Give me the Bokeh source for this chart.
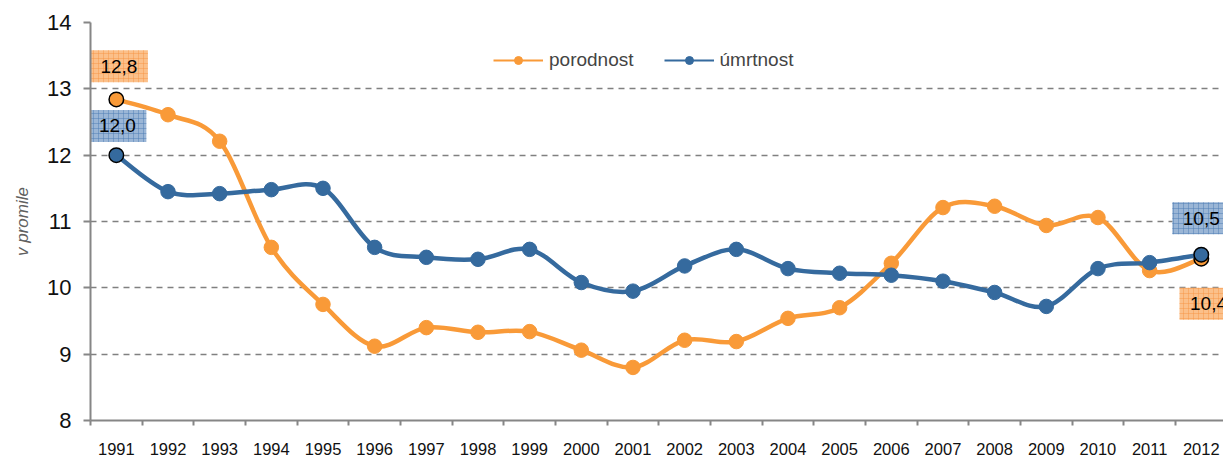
from bokeh.plotting import figure
from bokeh.models import FixedTicker, Legend, LegendItem, ColumnDataSource, Range1d
from bokeh.core.properties import value
from bokeh.embed import file_html
from bokeh.resources import INLINE

years = list(range(1991, 2013))
porodnost = [12.84, 12.61, 12.21, 10.61, 9.75, 9.12, 9.40, 9.33, 9.34, 9.06, 8.80,
             9.21, 9.19, 9.54, 9.70, 10.37, 11.21, 11.23, 10.94, 11.06, 10.26, 10.44]
umrtnost = [12.00, 11.45, 11.42, 11.48, 11.50, 10.61, 10.46, 10.43, 10.58, 10.08, 9.95,
            10.33, 10.58, 10.29, 10.22, 10.19, 10.10, 9.93, 9.72, 10.29, 10.38, 10.50]
series_names = ["porodnost", "úmrtnost"]
y_ticks = [8, 9, 10, 11, 12, 13, 14]

ORANGE = "#F99A38"
BLUE = "#356A9E"
FONT = "Liberation Sans"

p = figure(width=1223, height=461, output_backend="svg", toolbar_location=None,
           x_range=(1990.5, 2012.43), y_range=(8, 14),
           min_border_left=90, min_border_right=0, min_border_top=22, min_border_bottom=41)
p.outline_line_color = None
p.background_fill_color = "white"
p.border_fill_color = "white"
p.extra_y_ranges = {"hidden": Range1d(100, 101)}

# grid
p.xgrid.grid_line_color = None
p.ygrid.ticker = FixedTicker(ticks=y_ticks)
p.ygrid.grid_line_color = "#808080"
p.ygrid.grid_line_width = 1.6
p.ygrid.grid_line_dash = "6 5"

# y axis
p.yaxis.ticker = FixedTicker(ticks=y_ticks)
p.yaxis.axis_line_color = "#868686"
p.yaxis.axis_line_width = 2
p.yaxis.major_tick_line_color = "#868686"
p.yaxis.major_tick_line_width = 2
p.yaxis.major_tick_out = 7
p.yaxis.major_tick_in = 0
p.yaxis.minor_tick_line_color = None
p.yaxis.major_label_text_font = FONT
p.yaxis.major_label_text_font_size = "22px"
p.yaxis.major_label_text_color = "#111111"
p.yaxis.major_label_standoff = 12
p.yaxis.axis_label = "v promile"
p.yaxis.axis_label_text_font = FONT
p.yaxis.axis_label_text_font_style = "italic"
p.yaxis.axis_label_text_font_size = "17px"
p.yaxis.axis_label_text_color = "#606060"
p.yaxis.axis_label_standoff = 12

# x axis
p.xaxis.ticker = FixedTicker(ticks=years, minor_ticks=[y - 0.5 for y in years] + [years[-1] + 0.5])
p.xaxis.axis_line_color = "#868686"
p.xaxis.axis_line_width = 2
p.xaxis.major_tick_line_color = None
p.xaxis.major_tick_out = 0
p.xaxis.major_tick_in = 0
p.xaxis.minor_tick_line_color = "#868686"
p.xaxis.minor_tick_line_width = 2
p.xaxis.minor_tick_out = 5
p.xaxis.minor_tick_in = 0
p.xaxis.major_label_text_font = FONT
p.xaxis.major_label_text_font_size = "16.5px"
p.xaxis.major_label_text_color = "#111111"
p.xaxis.major_label_standoff = 17


def bezier_source(xs, ys):
    x0, y0, x1, y1, cx0, cy0, cx1, cy1 = [], [], [], [], [], [], [], []
    n = len(xs)
    for i in range(n - 1):
        xp, yp = (xs[i - 1], ys[i - 1]) if i > 0 else (xs[i], ys[i])
        xn, yn = (xs[i + 2], ys[i + 2]) if i + 2 < n else (xs[i + 1], ys[i + 1])
        x0.append(xs[i]); y0.append(ys[i])
        x1.append(xs[i + 1]); y1.append(ys[i + 1])
        cx0.append(xs[i] + (xs[i + 1] - xp) / 6.0)
        cy0.append(ys[i] + (ys[i + 1] - yp) / 6.0)
        cx1.append(xs[i + 1] - (xn - xs[i]) / 6.0)
        cy1.append(ys[i + 1] - (yn - ys[i]) / 6.0)
    return ColumnDataSource(dict(x0=x0, y0=y0, x1=x1, y1=y1, cx0=cx0, cy0=cy0, cx1=cx1, cy1=cy1))


legend_items = []
for name, vals, col in [(series_names[0], porodnost, ORANGE), (series_names[1], umrtnost, BLUE)]:
    p.bezier(x0="x0", y0="y0", x1="x1", y1="y1", cx0="cx0", cy0="cy0", cx1="cx1", cy1="cy1",
             source=bezier_source(years, vals), line_color=col, line_width=4.5)
    p.scatter(years[1:-1], vals[1:-1], size=14.5, fill_color=col, line_color=col)
    p.scatter([years[0], years[-1]], [vals[0], vals[-1]], size=14.5,
              fill_color=col, line_color="black", line_width=1.5)
    # legend helpers (drawn on a hidden range, only their legend glyphs are visible)
    lg_line = p.line(x=years, y=vals, line_color=col, line_width=2, y_range_name="hidden")
    lg_pt = p.scatter(x=years, y=vals, size=13, fill_color=col, line_color=col, y_range_name="hidden")
    legend_items.append(LegendItem(label=name, renderers=[lg_line, lg_pt]))


def fmt(v):
    return ("%.1f" % v).replace(".", ",")

labels = [
    (years[0], porodnost[0], 0.05, 0.50, "#FBC08A", "#F79646"),
    (years[0], umrtnost[0], 0.02, 0.44, "#9BB6D6", "#4F7DB5"),
    (years[-1], umrtnost[-1], 0.0, 0.55, "#9BB6D6", "#4F7DB5"),
    (years[-1], porodnost[-1], 0.14, -0.68, "#FBC08A", "#F79646"),
]
for x, v, dx, dy, fc, hc in labels:
    p.rect(x=[x + dx], y=[v + dy], width=58, height=32, width_units="screen", height_units="screen",
           fill_color=fc, line_color=None, hatch_pattern="+", hatch_color=hc,
           hatch_scale=5, hatch_weight=0.8, hatch_alpha=0.6)
    p.text(x=[x + dx], y=[v + dy], text=[fmt(v)], text_align="center", text_baseline="middle",
           text_font=value(FONT), text_font_size="19px", text_color="black")

legend = Legend(items=legend_items, orientation="horizontal", location=(403, 349),
                label_text_font=FONT, label_text_font_size="19px", glyph_width=50,
                glyph_height=20, spacing=30, label_standoff=6, padding=4,
                border_line_color=None, background_fill_alpha=0)
p.add_layout(legend)

open("out.html", "w").write(file_html(p, INLINE))
